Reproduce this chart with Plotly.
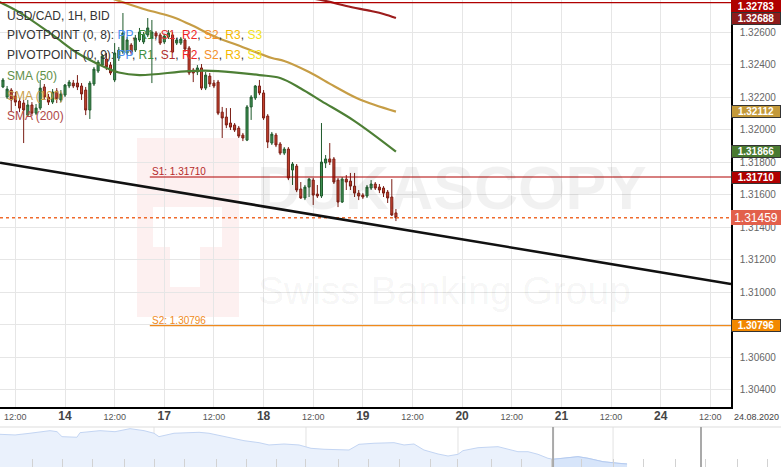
import plotly.graph_objects as go
from datetime import datetime, timedelta

W, H = 781, 467

# ---------------- data ----------------
seg1 = [datetime(2020, 8, 13, 9) + timedelta(hours=i) for i in range(39)]
seg2 = [datetime(2020, 8, 17, 0) + timedelta(hours=i) for i in range(57)]
candle_times = seg1 + seg2

opens = [
    1.32264, 1.32202, 1.32245, 1.32208, 1.32177, 1.32165, 1.32091, 1.32153, 1.32103, 1.32134,
    1.32264, 1.32202, 1.32171, 1.32239, 1.32184, 1.32214, 1.32270, 1.32288, 1.32288, 1.32270,
    1.32245, 1.32122, 1.32282, 1.32362, 1.32399, 1.32436, 1.32399, 1.32307, 1.32442, 1.32479,
    1.32473, 1.32522, 1.32491, 1.32553, 1.32541, 1.32584, 1.32565, 1.32596, 1.32584, 1.32541,
    1.32571, 1.32584, 1.32534, 1.32534, 1.32553, 1.32504, 1.32368, 1.32356, 1.32381, 1.32257,
    1.32331, 1.32288, 1.32294, 1.32109, 1.32079, 1.32042, 1.32030, 1.32011, 1.31968, 1.31937,
    1.32141, 1.32196, 1.32270, 1.32227, 1.32085, 1.31919, 1.31968, 1.31913, 1.31857, 1.31882,
    1.31753, 1.31777, 1.31636, 1.31581, 1.31648, 1.31691, 1.31605, 1.31593, 1.31796, 1.31821,
    1.31821, 1.31691, 1.31556, 1.31697, 1.31685, 1.31654, 1.31611, 1.31599, 1.31593, 1.31642,
    1.31667, 1.31648, 1.31642, 1.31617, 1.31587, 1.31489]
highs = [
    1.32319, 1.32270, 1.32257, 1.32233, 1.32196, 1.32184, 1.32184, 1.32171, 1.32159, 1.32307,
    1.32282, 1.32221, 1.32251, 1.32257, 1.32245, 1.32282, 1.32307, 1.32307, 1.32337, 1.32288,
    1.32264, 1.32301, 1.32387, 1.32430, 1.32467, 1.32473, 1.32417, 1.32534, 1.32510, 1.32719,
    1.32571, 1.32534, 1.32584, 1.32627, 1.32602, 1.32688, 1.32676, 1.32608, 1.32596, 1.32590,
    1.32614, 1.32602, 1.32565, 1.32571, 1.32565, 1.32516, 1.32381, 1.32399, 1.32405, 1.32356,
    1.32350, 1.32307, 1.32307, 1.32141, 1.32134, 1.32134, 1.32042, 1.32024, 1.31981, 1.32153,
    1.32214, 1.32276, 1.32307, 1.32245, 1.32097, 1.31987, 1.31981, 1.31925, 1.31894, 1.31894,
    1.31802, 1.31790, 1.31679, 1.31661, 1.31704, 1.31704, 1.31661, 1.32042, 1.31845, 1.31919,
    1.31833, 1.31704, 1.31710, 1.31722, 1.31735, 1.31735, 1.31630, 1.31611, 1.31661, 1.31691,
    1.31679, 1.31667, 1.31654, 1.31630, 1.31697, 1.31513]
lows = [
    1.32257, 1.32190, 1.32109, 1.32147, 1.32109, 1.31919, 1.32079, 1.32085, 1.32091, 1.32122,
    1.32184, 1.32153, 1.32159, 1.32165, 1.32171, 1.32202, 1.32257, 1.32257, 1.32245, 1.32184,
    1.32091, 1.32067, 1.32270, 1.32350, 1.32393, 1.32368, 1.32337, 1.32294, 1.32424, 1.32467,
    1.32461, 1.32461, 1.32479, 1.32541, 1.32528, 1.32571, 1.32288, 1.32565, 1.32522, 1.32528,
    1.32559, 1.32473, 1.32522, 1.32522, 1.32479, 1.32337, 1.32294, 1.32337, 1.32245, 1.32245,
    1.32264, 1.32257, 1.32091, 1.31950, 1.32011, 1.31999, 1.31987, 1.31950, 1.31931, 1.31931,
    1.32061, 1.32184, 1.32214, 1.32061, 1.31888, 1.31907, 1.31894, 1.31845, 1.31845, 1.31691,
    1.31661, 1.31617, 1.31575, 1.31568, 1.31587, 1.31538, 1.31581, 1.31581, 1.31765, 1.31784,
    1.31667, 1.31525, 1.31550, 1.31630, 1.31630, 1.31587, 1.31568, 1.31575, 1.31581, 1.31630,
    1.31630, 1.31611, 1.31587, 1.31550, 1.31470, 1.31439]
closes = [
    1.32307, 1.32251, 1.32184, 1.32171, 1.32134, 1.32122, 1.32153, 1.32103, 1.32134, 1.32257,
    1.32202, 1.32171, 1.32233, 1.32190, 1.32221, 1.32276, 1.32294, 1.32270, 1.32264, 1.32221,
    1.32122, 1.32288, 1.32374, 1.32417, 1.32454, 1.32387, 1.32350, 1.32473, 1.32491, 1.32596,
    1.32553, 1.32479, 1.32565, 1.32602, 1.32584, 1.32627, 1.32602, 1.32577, 1.32534, 1.32577,
    1.32596, 1.32479, 1.32553, 1.32559, 1.32497, 1.32350, 1.32350, 1.32381, 1.32257, 1.32337,
    1.32282, 1.32270, 1.32103, 1.32073, 1.32030, 1.32017, 1.31999, 1.31962, 1.31950, 1.32141,
    1.32202, 1.32270, 1.32227, 1.32073, 1.31925, 1.31974, 1.31907, 1.31857, 1.31882, 1.31704,
    1.31790, 1.31630, 1.31581, 1.31648, 1.31697, 1.31599, 1.31593, 1.31802, 1.31821, 1.31802,
    1.31679, 1.31556, 1.31697, 1.31679, 1.31654, 1.31611, 1.31593, 1.31587, 1.31648, 1.31667,
    1.31642, 1.31630, 1.31611, 1.31581, 1.31476, 1.31459]

sma50_t = ["2020-08-13 08:00", "2020-08-13 13:00", "2020-08-13 21:00", "2020-08-14 03:00",
           "2020-08-14 09:00", "2020-08-14 13:00", "2020-08-14 18:00", "2020-08-17 06:00",
           "2020-08-17 13:00", "2020-08-17 23:00", "2020-08-18 04:00", "2020-08-18 09:00",
           "2020-08-18 14:00", "2020-08-18 22:00", "2020-08-19 08:00"]
sma50_v = [1.32789, 1.32723, 1.32584, 1.32473, 1.32393, 1.32353, 1.32337, 1.32362,
           1.32362, 1.32337, 1.32319, 1.32255, 1.32177, 1.32054, 1.31866]

sma100_t = ["2020-08-14 05:00", "2020-08-14 11:00", "2020-08-14 16:00", "2020-08-14 19:00",
            "2020-08-17 02:00", "2020-08-17 06:00", "2020-08-17 13:00", "2020-08-17 17:00",
            "2020-08-18 02:00", "2020-08-18 05:00", "2020-08-18 11:00", "2020-08-18 17:00",
            "2020-08-18 23:00", "2020-08-19 08:00"]
sma100_v = [1.32860, 1.32811, 1.32768, 1.32744, 1.32694, 1.32651, 1.32565, 1.32528,
            1.32442, 1.32424, 1.32356, 1.32270, 1.32190, 1.32112]

sma200_t = ["2020-08-18 07:00", "2020-08-18 15:00", "2020-08-18 20:00", "2020-08-19 02:00",
            "2020-08-19 05:00", "2020-08-19 08:00"]
sma200_v = [1.32830, 1.32793, 1.32762, 1.32731, 1.32713, 1.32688]

trend_t = ["2020-08-13 08:17", "2020-08-24 17:00"]
trend_v = [1.31798, 1.31052]

top_level = 1.32783
s1_level = 1.31710
s2_level = 1.30796
last_price = 1.31459
pivot_start = "2020-08-14 20:30"

x_range = ["2020-08-13 08:17", "2020-08-24 17:00"]
y_range = [1.30295, 1.32799]
y_ticks = [1.30400, 1.30600, 1.30800, 1.31000, 1.31200, 1.31400, 1.31600,
           1.31800, 1.32000, 1.32200, 1.32400, 1.32600]
y_ticktext = ["1.30400", "1.30600", "", "1.31000", "1.31200", "1.31400", "1.31600",
              "1.31800", "1.32000", "1.32200", "1.32400", "1.32600"]

x_tickvals = ["2020-08-13 12:00", "2020-08-14 00:00", "2020-08-14 12:00", "2020-08-17 00:00",
              "2020-08-17 12:00", "2020-08-18 00:00", "2020-08-18 12:00", "2020-08-19 00:00",
              "2020-08-19 12:00", "2020-08-20 00:00", "2020-08-20 12:00", "2020-08-21 00:00",
              "2020-08-21 12:00", "2020-08-24 00:00", "2020-08-24 12:00"]
x_ticktext = ["12:00", "14", "12:00", "17", "12:00", "18", "12:00", "19",
              "12:00", "20", "12:00", "21", "12:00", "24", "12:00"]

# navigator (overview) series
nav_day = [0.0, 1.12, 2.23, 3.72, 4.24, 4.61, 5.72, 5.95, 7.43, 8.55, 9.67, 10.71, 11.45,
           11.82, 12.94, 14.80, 15.54, 16.65, 18.14, 19.26, 20.0, 21.12, 22.23, 23.12,
           24.09, 25.95, 26.69, 27.81, 29.29, 30.04, 30.78, 31.52, 32.57, 33.31, 34.05,
           34.42, 35.54, 37.03, 38.51, 39.26, 40.0, 40.74, 41.12, 41.86, 42.97, 43.72,
           44.83, 45.95, 46.62]
nav_close = [1.3547, 1.3538, 1.3561, 1.3596, 1.3582, 1.3515, 1.3507, 1.3569, 1.3596, 1.3582,
             1.3623, 1.3596, 1.3561, 1.3515, 1.3561, 1.3574, 1.3561, 1.3515, 1.3461, 1.3434,
             1.3403, 1.3416, 1.3403, 1.3358, 1.3345, 1.3335, 1.3412, 1.3426, 1.3434, 1.3403,
             1.3416, 1.3335, 1.3281, 1.3254, 1.3277, 1.3326, 1.3366, 1.3380, 1.3312, 1.3312,
             1.3277, 1.3223, 1.3210, 1.3223, 1.3245, 1.3223, 1.3177, 1.3156, 1.3146]
nav_window = [41.12, 52.12]
nav_major = [11.45, 22.75, 34.05, 45.58]
nav_ticks = [2.38, 4.61, 6.84, 9.29, 11.45, 13.68, 16.13, 18.36, 20.59, 22.75, 25.20, 27.43,
             29.67, 32.04, 34.05, 36.51, 38.74, 41.04, 43.27, 45.58, 47.81, 50.19, 52.42,
             54.80, 57.03]

# ---------------- figure ----------------
FONT = "Liberation Sans, Arial, sans-serif"
xr = 731 / W
main_bottom = (H - 407) / H
nav_top = (H - 427) / H

fig = go.Figure()

fig.add_trace(go.Candlestick(
    x=candle_times, open=opens, high=highs, low=lows, close=closes,
    increasing=dict(line=dict(color="#1f5a2c", width=1), fillcolor="#3f9152"),
    decreasing=dict(line=dict(color="#7a1d14", width=1), fillcolor="#c8442e"),
    whiskerwidth=0, hoverinfo="skip", xaxis="x", yaxis="y"))

fig.add_trace(go.Scatter(x=sma50_t, y=sma50_v, mode="lines", line=dict(color="#4d7f35", width=2.2, shape="spline"), hoverinfo="skip"))
fig.add_trace(go.Scatter(x=sma100_t, y=sma100_v, mode="lines", line=dict(color="#c69d45", width=2.2, shape="spline"), hoverinfo="skip"))
fig.add_trace(go.Scatter(x=sma200_t, y=sma200_v, mode="lines", line=dict(color="#9c1c1c", width=2.2, shape="spline"), hoverinfo="skip"))

fig.add_trace(go.Scatter(x=x_range, y=[top_level, top_level], mode="lines", line=dict(color="#b00000", width=1.2), hoverinfo="skip"))
fig.add_trace(go.Scatter(x=[pivot_start, x_range[1]], y=[s1_level, s1_level], mode="lines", line=dict(color="#b00000", width=1.2), hoverinfo="skip"))
fig.add_trace(go.Scatter(x=[pivot_start, x_range[1]], y=[s2_level, s2_level], mode="lines", line=dict(color="#f08a1c", width=1.2), hoverinfo="skip"))
fig.add_trace(go.Scatter(x=x_range, y=[last_price, last_price], mode="lines", line=dict(color="#ef6a2c", width=1.6, dash="dot"), hoverinfo="skip"))
fig.add_trace(go.Scatter(x=trend_t, y=trend_v, mode="lines", line=dict(color="#111111", width=2.6), hoverinfo="skip"))

# navigator
fig.add_trace(go.Scatter(x=nav_day, y=nav_close, mode="lines", fill="tozeroy",
                         fillcolor="#eaf1fc", line=dict(color="#c3d5f3", width=1),
                         xaxis="x2", yaxis="y2", hoverinfo="skip"))
sel = [i for i, d in enumerate(nav_day) if d >= nav_window[0]]
fig.add_trace(go.Scatter(x=[nav_day[i] for i in sel], y=[nav_close[i] for i in sel], mode="lines",
                         fill="tozeroy", fillcolor="#d7e5fa", line=dict(color="#b5cbf0", width=1),
                         xaxis="x2", yaxis="y2", hoverinfo="skip"))

# watermark logo (decoration, paper coordinates)
def px_rect(x0, y0, x1, y1, color):
    fig.add_shape(type="rect", xref="paper", yref="paper", x0=x0 / W, x1=x1 / W,
                  y0=1 - y1 / H, y1=1 - y0 / H, fillcolor=color, line=dict(width=0), layer="below")

px_rect(137, 138, 239, 317, "#fdf0f0")
px_rect(153, 207, 222, 247, "#ffffff")
px_rect(170, 247, 200, 287, "#ffffff")

fig.add_annotation(xref="paper", yref="paper", x=452 / W, y=1 - 188 / H, xanchor="center", yanchor="middle",
                   text="<b>DUKASCOPY</b>",
                   showarrow=False, font=dict(size=61, color="rgba(0,0,0,0.055)", family=FONT))
fig.add_annotation(xref="paper", yref="paper", x=445 / W, y=1 - 290 / H, xanchor="center", yanchor="middle",
                   text="Swiss Banking Group",
                   showarrow=False, font=dict(size=39, color="rgba(0,0,0,0.05)", family=FONT))

# navigator decorations
fig.add_shape(type="line", xref="paper", yref="paper", x0=0, x1=1, y0=nav_top, y1=nav_top,
              line=dict(color="#dddddd", width=1))
for d in nav_major:
    fig.add_shape(type="line", xref="x2", yref="paper", x0=d, x1=d, y0=0, y1=nav_top,
                  line=dict(color="#e2e2e2", width=1), layer="below")
for d in nav_window:
    fig.add_shape(type="line", xref="x2", yref="paper", x0=d, x1=d, y0=0, y1=nav_top,
                  line=dict(color="#a9a9a9", width=2))

# legend texts
def ltext(y, text):
    fig.add_annotation(xref="paper", yref="paper", x=5 / W, y=1 - y / H, xanchor="left",
                       yanchor="middle", text=text, showarrow=False,
                       font=dict(size=12, color="#333333", family=FONT))

def c(t, col):
    return f"<span style='color:{col}'>{t}</span>"

ltext(16, "USD/CAD, 1H, BID")
ltext(35, "PIVOTPOINT (0, 8): " + ", ".join([c("PP", "#4a8ef0"), c("R1", "#3f8f3f"), c("S1", "#e03030"),
                                               c("R2", "#f02525"), c("S2", "#f5902a"), c("R3", "#f5b800"),
                                               c("S3", "#f2e21a")]))
ltext(55, "PIVOTPOINT (0, 9): " + ", ".join([c("PP", "#4a8ef0"), c("R1", "#3f8f3f"), c("S1", "#b03030"),
                                               c("R2", "#f02525"), c("S2", "#f5902a"), c("R3", "#f5b800"),
                                               c("S3", "#f2e21a")]))
ltext(76, c("SMA (50)", "#5f9049"))
ltext(96, c("SMA (100)", "#c9a04a"))
ltext(116, c("SMA (200)", "#b04848"))

# pivot labels
fig.add_annotation(x=pivot_start, y=s1_level, xanchor="left", yanchor="middle", yshift=6,
                   text=f"S1: {s1_level:.5f}", showarrow=False,
                   font=dict(size=10, color="#b52a2a", family=FONT))
fig.add_annotation(x=pivot_start, y=s2_level, xanchor="left", yanchor="middle", yshift=5,
                   text=f"S2: {s2_level:.5f}", showarrow=False,
                   font=dict(size=10, color="#f08a1c", family=FONT))

# price boxes on right axis
def price_box(price, bg, border, size=10, h=11, w=48, bold=True, yanchor="middle", ypos=None, yref="y"):
    t = f"{price:.5f}"
    fig.add_annotation(xref="paper", x=xr, xanchor="left", yref=yref,
                       y=price if ypos is None else ypos, yanchor=yanchor,
                       text=f"<b>{t}</b>" if bold else t, showarrow=False,
                       font=dict(color="white", size=size, family=FONT),
                       bgcolor=bg, bordercolor=border, borderwidth=1, borderpad=0,
                       width=w, height=h, align="center")

# top level box sits against the upper edge so that it stays readable
price_box(top_level, "#b00000", "#b00000", h=10, yanchor="top", ypos=1.0, yref="paper")
price_box(sma200_v[-1], "#8e1b1b", "#333333")
price_box(sma100_v[-1], "#c49a3a", "#333333")
price_box(sma50_v[-1], "#4a7a31", "#333333")
price_box(s1_level, "#b00000", "#333333")
price_box(s2_level, "#f28800", "#333333")
price_box(last_price, "#e2604b", "#e2604b", size=12, h=13, w=48, bold=False)

fig.add_annotation(xref="paper", yref="paper", x=756 / W, y=1 - 417 / H, xanchor="center", yanchor="middle",
                   text="24.08.2020",
                   showarrow=False, font=dict(size=9, color="#444444", family=FONT))

ticktext = [f"<b><span style='font-size:12px;color:#444'>{t}</span></b>" if ":" not in t else t
            for t in x_ticktext]

fig.update_layout(
    width=W, height=H, margin=dict(l=0, r=0, t=0, b=0, autoexpand=False),
    paper_bgcolor="white", plot_bgcolor="white", showlegend=False,
    font=dict(family=FONT),
    xaxis=dict(domain=[0, xr], type="date", range=x_range, automargin=False,
               rangebreaks=[dict(bounds=["sat", "mon"])],
               rangeslider=dict(visible=False),
               tickvals=x_tickvals, ticktext=ticktext, tickfont=dict(size=9, color="#555"),
               showgrid=True, gridcolor="#e6e6e6", gridwidth=1,
               showline=True, linecolor="#000", linewidth=1.5, ticks="", zeroline=False,
               anchor="y"),
    yaxis=dict(domain=[main_bottom, 1], range=y_range, side="right", automargin=False,
               tickvals=y_ticks, ticktext=y_ticktext,
               tickfont=dict(size=10, color="#666"), ticklabelstandoff=5,
               showgrid=True, gridcolor="#e6e6e6", gridwidth=1,
               showline=True, linecolor="#000", linewidth=1.5, ticks="", zeroline=False,
               anchor="x"),
    xaxis2=dict(domain=[0, 1], range=[0, W / 13.45], anchor="y2", showgrid=False, automargin=False,
                tickvals=nav_ticks, ticks="inside", ticklen=8, tickcolor="#d2d2d2",
                showticklabels=False, showline=False, zeroline=False),
    yaxis2=dict(domain=[0, nav_top], range=[1.31055, 1.36455], showgrid=False, automargin=False,
                showticklabels=False, zeroline=False, showline=False),
)

fig.write_html("out.html", config={"displayModeBar": False},
               post_script="document.body.style.margin='0';document.body.style.overflow='hidden';")
